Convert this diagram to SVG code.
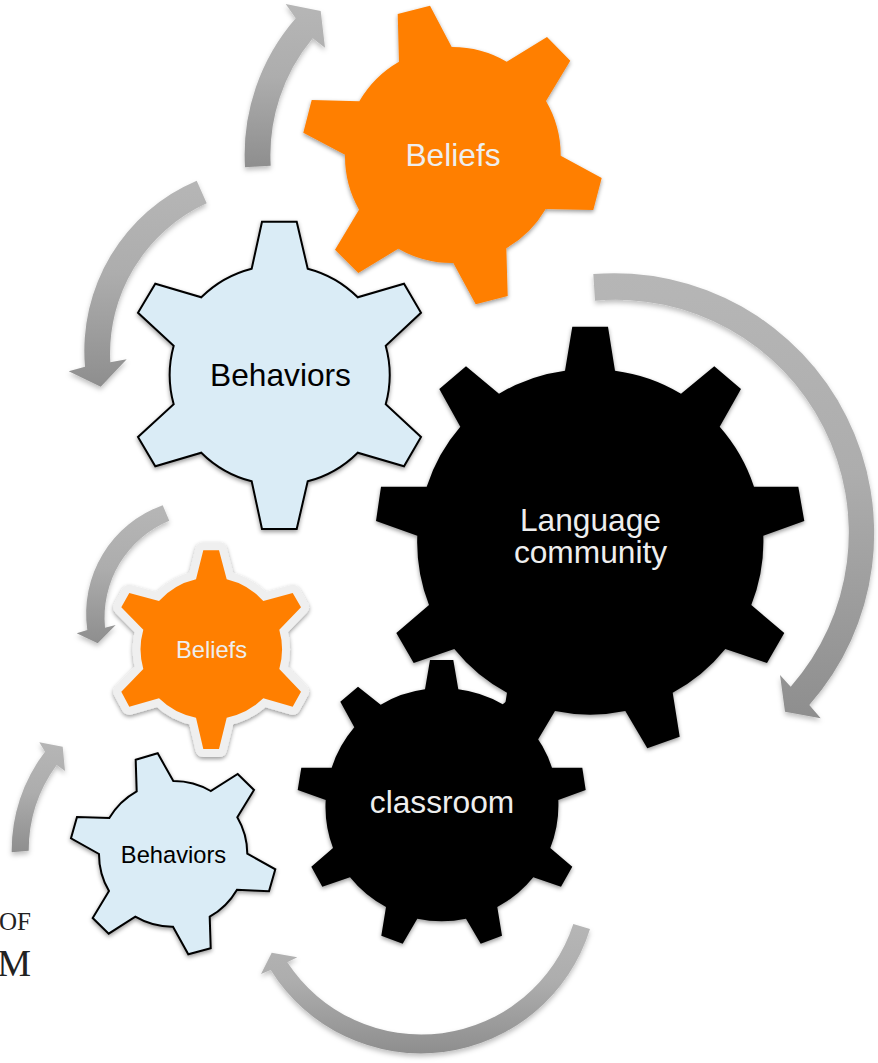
<svg xmlns="http://www.w3.org/2000/svg" width="878" height="1063" viewBox="0 0 878 1063">
<style>
.t{font-family:"Liberation Sans",Arial,sans-serif;text-anchor:middle}
.light{fill:#eeeeee}
.dark{fill:#000}
.big{font-size:31.7px}
.small{font-size:23.7px}
.serif{font-family:"Liberation Serif","Times New Roman",serif;fill:#222;text-anchor:end}
.arrow{fill:url(#ag);filter:url(#as)}
.gear{filter:url(#gs)}
.orange{fill:#ff7f00}
.blue{fill:#daecf6;stroke:#000;stroke-width:2;stroke-linejoin:miter}
.black{fill:#000}
.halo{fill:#ff7f00;stroke:#efefef;stroke-width:16;stroke-linejoin:round;paint-order:stroke}
</style>
<defs>
<linearGradient id="ag" x1="0" y1="0" x2="0" y2="1"><stop offset="0" stop-color="#b6b6b6"/><stop offset="0.45" stop-color="#adadad"/><stop offset="1" stop-color="#8e8e8e"/></linearGradient>
<filter id="as" x="-20%" y="-20%" width="140%" height="140%"><feDropShadow dx="0" dy="3" stdDeviation="2.5" flood-color="#000" flood-opacity="0.25"/></filter>
<filter id="gs" x="-10%" y="-10%" width="120%" height="120%"><feDropShadow dx="0" dy="2" stdDeviation="2" flood-color="#000" flood-opacity="0.4"/></filter>
</defs>
<g id="connectors">
<path id="arrow-top" class="arrow" d="M245,167.3A208,208 0 0 1 295.7,18.3L285.7,4L320.7,11L325,47.7L312.7,38.3A182.6,182.6 0 0 0 270.7,165.7Z"/>
<path id="arrow-left" class="arrow" d="M196.7,180.7A185,185 0 0 0 85,366.7L68.7,371.3L100.7,386.7L126.7,359.3L110.3,362.3A165,165 0 0 1 206.7,203.3Z"/>
<path id="arrow-right" class="arrow" d="M593.3,274A260,260 0 0 1 809.3,705L820.7,718.3L785,711.7L780,675L790.7,686.7A233,233 0 0 0 595,300.7Z"/>
<path id="arrow-bottom" class="arrow" d="M590,929A177,177 0 0 1 270.7,970L261,974L271.7,952.7L297.3,957.3L287.3,962.3A160,160 0 0 0 573.3,924Z"/>
<path id="arrow-small-left" class="arrow" d="M162.7,505.3A115,115 0 0 0 87.3,630L76.7,633.3L97.7,643.3L115.7,625L105,627.7A105,105 0 0 1 169.3,520.7Z"/>
<path id="arrow-small-bottom" class="arrow" d="M11.7,852.3A162,162 0 0 1 45,751.7L39.3,742.3L62.7,746.7L65,771L56.7,765A145,145 0 0 0 28.7,850.7Z"/>
</g>
<g id="gear-beliefs-top">
<path class="orange gear" d="M397.7,14L430,5.7L451.7,47A108,108 0 0 1 506.7,61.7L547,37L570.3,60.7L546,101A108,108 0 0 1 560.7,155.7L601.7,178L593.3,210L545.7,209A108,108 0 0 1 506.3,248.3L507.7,296L475.7,304.3L453.3,263A108,108 0 0 1 398.3,248.7L358.3,273L335,249.7L359,209.7A108,108 0 0 1 345,154.7L303.3,132.7L311.7,100L359.3,101.3A108,108 0 0 1 399,61.7Z"/>
<text class="t light big" x="453" y="165.500">Beliefs</text>
</g>
<g id="gear-behaviors-large">
<path class="blue gear" d="M262,221.7L296.7,221.7L307.7,268.7A110,110 0 0 1 357.7,297.3L404,283.7L421,312.7L385.7,345.7A110,110 0 0 1 385.7,404.3L421,437L404,466.3L357.7,452.7A110,110 0 0 1 307.7,481.3L296.7,529L262,529L251.7,481.3A110,110 0 0 1 201.3,452.7L155.3,466.3L138,437L173.7,404.3A110,110 0 0 1 173.7,345.7L138,312.7L155.3,283.7L201.3,297.3A110,110 0 0 1 251.7,268.7Z"/>
<text class="t dark big" x="280.500" y="386">Behaviors</text>
</g>
<g id="gear-language-community">
<path class="black gear" d="M572.3,326.7L608,326.7L615,370.7A172,172 0 0 1 681,393.7L714.3,366.3L741,389L719.7,426.7A172,172 0 0 1 754,486.7L798.300,486.7L804.3,521L763.3,535.7A172,172 0 0 1 751.3,605L784.3,633L767,663L725.3,649A172,172 0 0 1 672.7,692.7L679.7,736.7L647.3,748.3L625.3,711A172,172 0 0 1 555,711L533,748L500,737L507,692.7A172,172 0 0 1 454.3,649L413.7,663L396.3,633L429,605A172,172 0 0 1 417.3,535.7L376,521L381,486.7L426.7,486.7A172,172 0 0 1 460.3,426.7L439.3,389L466,366.3L499,393.7A172,172 0 0 1 565,370.7Z"/>
<text class="t light big"><tspan x="590.500" y="530.500">Language</tspan><tspan x="590.500" y="562.500">community</tspan></text>
</g>
<g id="gear-classroom">
<path class="black gear" d="M430,660L453.3,660L458.3,689.3A116,116 0 0 1 502.7,704.3L525.4,686.7L543,701.7L529,727.3A116,116 0 0 1 552,767.7L582.3,767.7L585.7,790L558.3,800A116,116 0 0 1 550.3,848L572.3,866.7L561,886.7L533.3,877.3A116,116 0 0 1 497.3,907L502,935.7L480.7,943.700L466,918.7A116,116 0 0 1 417.3,918.7L402.7,943.7L381.3,935.7L386,907A116,116 0 0 1 350,877.3L322.3,886.7L311.3,866.7L333,848A116,116 0 0 1 325.7,800L297.7,790L301.3,767.7L331.7,767.7A116,116 0 0 1 354.3,727.3L340.3,701.7L358,686.7L380.7,704.7A116,116 0 0 1 425,689.3Z"/>
<text class="t light big" x="442" y="812.700">classroom</text>
</g>
<g id="gear-beliefs-small">
<path class="halo gear" d="M203.3,550.3L219,550.3L226.7,579.3A72,72 0 0 1 263.3,601L292.7,593L301,607.3L279.3,629.7A72,72 0 0 1 279.3,669L301,691.7L292.7,706.7L263.3,698.3A72,72 0 0 1 226.7,717.7L219,749L203.3,749L196,717.7A72,72 0 0 1 159,698.3L129.3,706.7L121.3,691.7L143.3,669A72,72 0 0 1 143.3,629.7L121.3,607.3L129.3,593L159,601A72,72 0 0 1 196,579.3Z"/>
<text class="t light small" x="211.500" y="657.700">Beliefs</text>
</g>
<g id="gear-behaviors-small">
<path class="blue gear" d="M135.7,759.7L157.7,753.3L173.3,781A73,73 0 0 1 210.7,791L237.7,774L254,790L237.3,817.3A73,73 0 0 1 247.3,853.7L275.3,869.3L269,891.3L237,889.7A73,73 0 0 1 209.7,916.7L210.7,948.3L188.3,954.3L173,926.7A73,73 0 0 1 135.3,916.7L108.7,933.7L92.7,918L109,891A73,73 0 0 1 99,854L71,838.3L77,817L109.3,818A73,73 0 0 1 136.7,791.3Z"/>
<text class="t dark small" x="173.500" y="862.700">Behaviors</text>
</g>
<text class="serif" x="31" y="930" font-size="25">OF</text>
<text class="serif" x="31" y="976" font-size="38">M</text>
</svg>
